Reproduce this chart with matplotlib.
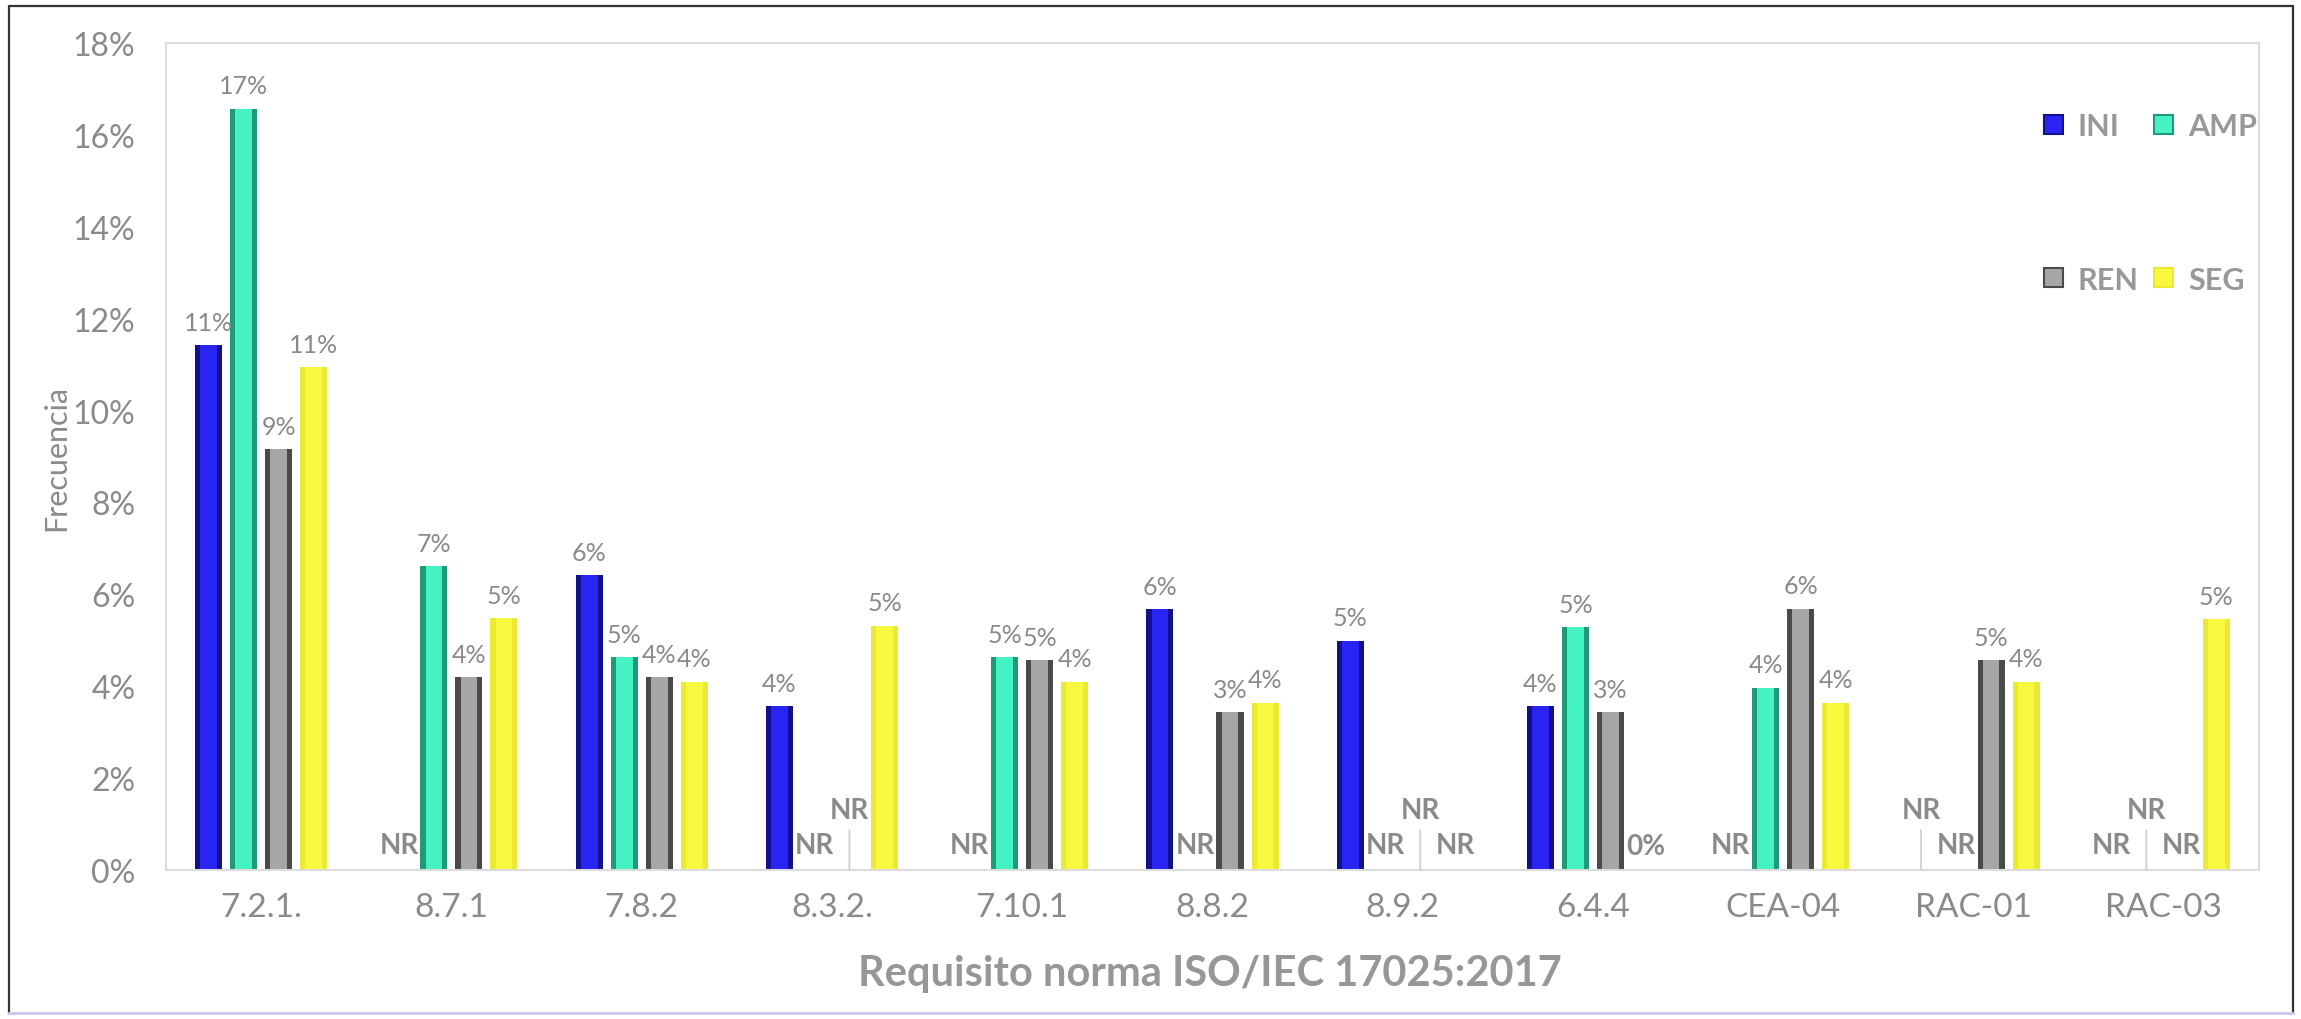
import numpy as np
import matplotlib
matplotlib.use('Agg')
import matplotlib.pyplot as plt
from matplotlib.patches import Patch
from matplotlib.lines import Line2D

nan = np.nan

# Requisitos (eje x) y frecuencia (%) por etapa; nan = NR
categories = ['7.2.1.', '8.7.1', '7.8.2', '8.3.2.', '7.10.1', '8.8.2',
              '8.9.2', '6.4.4', 'CEA-04', 'RAC-01', 'RAC-03']
ini = [11.43, nan, 6.42, 3.56, nan, 5.67, 4.99, 3.56, nan, nan, nan]
amp = [16.57, 6.62, 4.64, nan, 4.64, nan, nan, 5.29, 3.97, nan, nan]
ren = [9.16, 4.19, 4.19, nan, 4.57, 3.43, nan, 3.43, 5.69, 4.57, nan]
seg = [10.95, 5.48, 4.10, 5.32, 4.10, 3.64, nan, 0.0, 3.64, 4.10, 5.46]
series_names = ['INI', 'AMP', 'REN', 'SEG']
yticks = [0, 2, 4, 6, 8, 10, 12, 14, 16, 18]

# NR labels that sit higher with a leader line
raised_nr = {'INI': ['RAC-01'], 'AMP': ['RAC-03'], 'REN': ['8.3.2.', '8.9.2'], 'SEG': []}

# colours: (face, dark edge)
colors = {'INI': ('#2a24f2', '#12108a'),
          'AMP': ('#44f2c4', '#1f9a78'),
          'REN': ('#a6a6a6', '#4a4a4a'),
          'SEG': ('#f8f83e', '#eaea34')}

TXT = '#8a8a8a'
FONT = ['Lato', 'DejaVu Sans']
plt.rcParams['font.family'] = FONT

fig = plt.figure(figsize=(23.01, 10.20), dpi=100)
ax = fig.add_axes([166 / 2301, 1 - 871 / 1020, 2093 / 2301, 827 / 1020])

x = np.arange(len(categories))
pitch, width = 0.184, 0.142
data = [ini, amp, ren, seg]

for i, (name, vals) in enumerate(zip(series_names, data)):
    xs = x + (i - 1.5) * pitch
    v = np.array(vals, dtype=float)
    face, dark = colors[name]
    ax.bar(xs, np.nan_to_num(v), width=width, color=dark, linewidth=0)
    ax.bar(xs, np.nan_to_num(v), width=width * 0.62, color=face, linewidth=0)
    for cat, xi, vi in zip(categories, xs, v):
        if np.isnan(vi):
            if cat in raised_nr[name]:
                ax.annotate('NR', xy=(xi, 0), xytext=(0, 43), textcoords='offset points',
                            ha='center', va='center', fontsize=20, fontweight='bold', color=TXT,
                            arrowprops=dict(arrowstyle='-', color='#cfcfcf', lw=1.3,
                                            shrinkA=3, shrinkB=0))
            else:
                ax.annotate('NR', xy=(xi, 0), xytext=(0, 18), textcoords='offset points',
                            ha='center', va='center', fontsize=20, fontweight='bold', color=TXT)
        elif vi == 0:
            ax.annotate('0%', xy=(xi, 0), xytext=(0, 17), textcoords='offset points',
                        ha='center', va='center', fontsize=20, fontweight='bold', color=TXT)
        else:
            ax.annotate(f'{vi:.0f}%', xy=(xi, vi), xytext=(0, 11), textcoords='offset points',
                        ha='center', va='baseline', fontsize=18, color=TXT)

ax.set_xlim(-0.5, len(categories) - 0.5)
ax.set_ylim(0, 18)
ax.set_yticks(yticks)
ax.set_yticklabels([f'{t}%' for t in yticks], fontsize=23, color=TXT)
ax.set_xticks(x)
ax.set_xticklabels(categories, fontsize=24, color=TXT)
ax.tick_params(axis='y', length=0, pad=22)
ax.tick_params(axis='x', length=0, pad=16)
for s in ax.spines.values():
    s.set_color('#dcdcdc')
    s.set_linewidth(1.5)

fig.text(56 / 2301, 1 - 458 / 1020, 'Frecuencia', rotation=90, ha='center', va='center',
         fontsize=22, color=TXT)
fig.text(1210 / 2301, 1 - 974 / 1020, 'Requisito norma ISO/IEC 17025:2017', ha='center',
         va='center', fontsize=30, fontweight='bold', color='#979797')

# legend filled column-wise: INI/REN in the first column, AMP/SEG in the second
order = ['INI', 'REN', 'AMP', 'SEG']
handles = [Patch(facecolor=colors[n][0], edgecolor=colors[n][1], linewidth=1.5)
           for n in order]
leg = fig.legend(handles, order, loc='upper right', ncol=2, frameon=False,
                 bbox_to_anchor=(2272 / 2301, 1 - 98 / 1020), borderpad=0,
                 handlelength=0.6, handleheight=0.6, handletextpad=0.5,
                 columnspacing=0.5, labelspacing=4.1,
                 prop={'size': 22, 'weight': 'bold', 'family': FONT})
for t in leg.get_texts():
    t.set_color('#989898')

# outer frame
fx0, fx1 = 9 / 2301, 2293 / 2301
fy0, fy1 = 1 - 1014 / 1020, 1 - 7 / 1020
fig.add_artist(Line2D([fx0, fx0, fx1, fx1], [fy0, fy1, fy1, fy0],
                      transform=fig.transFigure, color='#333333', lw=1.6))
fig.add_artist(Line2D([fx0, fx1], [fy0, fy0], transform=fig.transFigure,
                      color='#c9c6ef', lw=2))

fig.savefig('out.png', dpi=100)
